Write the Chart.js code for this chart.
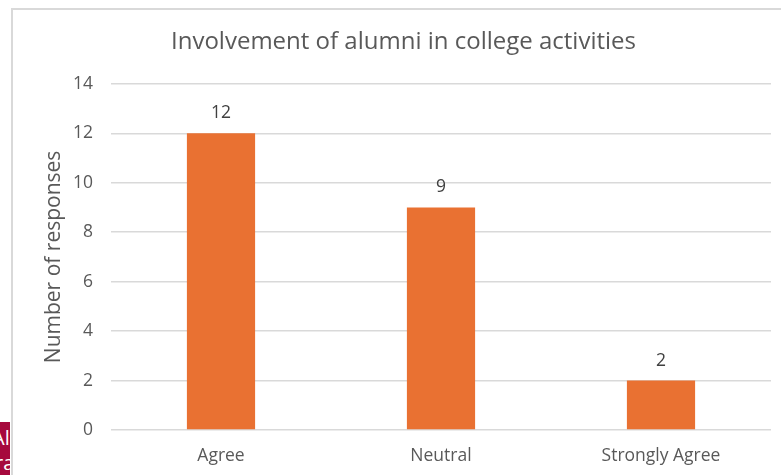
<!DOCTYPE html>
<html>
  <head>
    <style>
      body { margin: 0; background: #fff; font-family: "Open Sans", sans-serif; }
      #wrap { position: relative; width: 781px; height: 475px; overflow: hidden; }
      #frame { position: absolute; left: 11px; top: 8px; width: 800px; height: 500px; border: 2px solid #d9d9d9; box-sizing: border-box; }
      #tab { position: absolute; left: 0; top: 422px; width: 10px; height: 53px; background: #a6093d; color: #fff; font: 20px "Open Sans", sans-serif; line-height: 25px; overflow: hidden; white-space: nowrap; padding-top: 3px; box-sizing: border-box; }
      canvas { position: absolute; left: 0; top: 0; }
    </style>
    <script src="https://cdn.jsdelivr.net/npm/chart.js"></script>
  </head>
  <body>
    <div id="wrap">
      <div id="frame"></div>
      <div id="tab"><div style="margin-left:-8px">Al</div><div style="margin-left:-5px">ra</div></div>
      <canvas id="chart" width="781" height="475"></canvas>
    </div>

    <script>
      var categories = ['Agree', 'Neutral', 'Strongly Agree'];
      var responses = [12, 9, 2];
      var yTicks = [0, 2, 4, 6, 8, 10, 12, 14];

      var fontFamily = '"Open Sans", sans-serif';

      // labels above each bar
      var valueLabels = {
        id: 'valueLabels',
        afterDatasetsDraw: function(chart) {
          var ctx = chart.ctx;
          var meta = chart.getDatasetMeta(0);
          ctx.save();
          ctx.fillStyle = '#404040';
          ctx.font = '17.5px ' + fontFamily;
          ctx.textAlign = 'center';
          ctx.textBaseline = 'middle';
          meta.data.forEach(function(bar, i) {
            ctx.fillText(responses[i], bar.x, bar.y - 20);
          });
          ctx.restore();
        }
      };

      var ctx = document.getElementById('chart').getContext('2d');
      new Chart(ctx, {
        type: 'bar',
        data: {
          labels: categories,
          datasets: [{
            data: responses,
            backgroundColor: '#E97132',
            barPercentage: 0.31,
            categoryPercentage: 1
          }]
        },
        plugins: [valueLabels],
        options: {
          responsive: false,
          animation: false,
          layout: { padding: { left: 36, right: 10, top: 0, bottom: 0 } },
          plugins: {
            legend: { display: false },
            tooltip: { enabled: false },
            title: {
              display: true,
              text: 'Involvement of alumni in college activities',
              color: '#595959',
              font: { family: fontFamily, size: 24, weight: 'normal' },
              padding: { top: 28, bottom: 27 }
            }
          },
          scales: {
            x: {
              grid: { display: false },
              border: { display: false },
              ticks: { color: '#595959', font: { family: fontFamily, size: 17.5 }, padding: 8 },
              afterFit: function(axis) { axis.height = 45; }
            },
            y: {
              min: 0,
              max: 14,
              afterBuildTicks: function(axis) {
                axis.ticks = yTicks.map(function(v) { return { value: v }; });
              },
              grid: { color: '#d9d9d9', lineWidth: 1.5, drawTicks: false },
              border: { display: false },
              ticks: { color: '#595959', font: { family: fontFamily, size: 17.5 }, padding: 18 },
              title: {
                display: true,
                text: 'Number of responses',
                color: '#595959',
                font: { family: fontFamily, size: 21, weight: 'normal' },
                padding: { top: 5, bottom: 0 }
              },
              afterFit: function(axis) { axis.width = 75; }
            }
          }
        }
      });
    </script>
  </body>
</html>
